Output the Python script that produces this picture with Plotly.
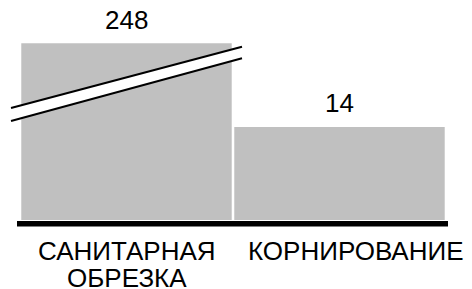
import plotly.graph_objects as go

# ---- data ----
categories = ["САНИТАРНАЯ<br>ОБРЕЗКА", "КОРНИРОВАНИЕ"]
values = [248, 14]
value_labels = ["248", "14"]
# axis is broken: bars above this level are drawn truncated at it
break_level = 26.6

displayed = [v if v < break_level else break_level for v in values]
x_idx = list(range(len(categories)))

FONT = "Arial, Liberation Sans, sans-serif"
FS = 26

fig = go.Figure()
fig.add_trace(go.Bar(
    x=x_idx, y=displayed,
    marker=dict(color="#c0c0c0", line=dict(width=0)),
    width=0.988, hoverinfo="skip",
))

annotations = []
# value labels
for i, (d, t) in enumerate(zip(displayed, value_labels)):
    annotations.append(dict(x=i, y=d, xref="x", yref="y", text=t, showarrow=False,
                            yanchor="bottom", yshift=6.5,
                            font=dict(family=FONT, size=FS, color="black")))
# category labels (one annotation per line)
label_xshift = [0, 16.5]
for i, c in enumerate(categories):
    for j, line in enumerate(c.split("<br>")):
        annotations.append(dict(x=i, y=0, xref="x", yref="paper", text=line, showarrow=False,
                                yanchor="top", yshift=-13.5 - 27.5 * j, xshift=label_xshift[i],
                                font=dict(family=FONT, size=FS, color="black")))

# axis-break marker (paper coords), over the truncated bar
def py(p):  # window pixel row -> paper y
    return (220 - p) / 210.0
def px(p):  # window pixel column -> paper x
    return (p - 20) / 426.0

xa, xb = px(11), px(242)
l1a, l1b = py(108), py(46.7)
l2a, l2b = py(121), py(58.3)
shapes = [
    dict(type="path", xref="paper", yref="paper", layer="above",
         path=f"M {xa},{l1a} L {xb},{l1b} L {xb},{l2b} L {xa},{l2a} Z",
         fillcolor="white", line=dict(width=0)),
    dict(type="line", xref="paper", yref="paper", layer="above",
         x0=xa, y0=l1a, x1=xb, y1=l1b, line=dict(color="black", width=2)),
    dict(type="line", xref="paper", yref="paper", layer="above",
         x0=xa, y0=l2a, x1=xb, y1=l2b, line=dict(color="black", width=2)),
    # thick baseline
    dict(type="line", xref="paper", yref="paper", layer="above",
         x0=px(17), x1=px(448), ysizemode="pixel", yanchor=0, y0=-3.8, y1=-3.8,
         line=dict(color="black", width=5.5)),
]

fig.update_layout(
    width=472, height=289,
    margin=dict(l=20, r=26, t=10, b=69, pad=0),
    paper_bgcolor="white", plot_bgcolor="white",
    showlegend=False, bargap=0.012,
    xaxis=dict(range=[-0.5, 1.5], showticklabels=False, showgrid=False, zeroline=False,
               showline=False, ticks="", fixedrange=True),
    yaxis=dict(range=[0, 31.6], visible=False, fixedrange=True),
    annotations=annotations, shapes=shapes,
    font=dict(family=FONT),
)

# remove the page's default 8px body margin so the figure fills the window
fig.write_html("out.html", config={"displayModeBar": False},
               post_script="document.body.style.margin='0';document.documentElement.style.overflow='hidden';")
